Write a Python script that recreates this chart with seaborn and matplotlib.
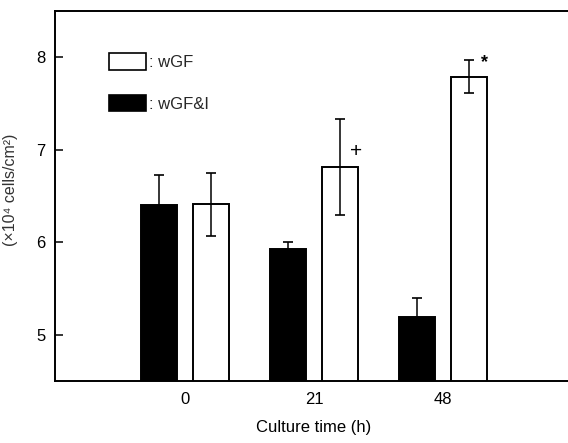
import matplotlib
matplotlib.use("Agg")
import matplotlib.pyplot as plt
import seaborn as sns
import pandas as pd
import numpy as np
from matplotlib.patches import Patch

# ---- data ----
categories = ["0", "21", "48"]
groups = ["wGF&I", "wGF"]
wgfi_mean = [6.40, 5.93, 5.19]
wgfi_err = [0.33, 0.07, 0.21]
wgf_mean = [6.41, 6.81, 7.79]
wgf_err = [0.34, 0.52, 0.18]
wgf_sig = ["", "+", "*"]
wgf_sig_y = [None, 6.98, 7.94]
yticks = [5, 6, 7, 8]

df = pd.DataFrame({
    "time": categories * 2,
    "group": [groups[0]] * 3 + [groups[1]] * 3,
    "value": wgfi_mean + wgf_mean,
})
errs = {groups[0]: wgfi_err, groups[1]: wgf_err}

sns.set_style("ticks")
plt.rcParams["font.family"] = ["Liberation Sans", "DejaVu Sans"]
plt.rcParams["font.size"] = 12

fig = plt.figure(figsize=(5.68, 4.43), dpi=100)
ax = fig.add_axes([55 / 568, 62 / 443, 517 / 568, 370 / 443])

sns.barplot(data=df, x="time", y="value", hue="group", hue_order=groups,
            order=categories, palette={"wGF&I": "black", "wGF": "white"},
            edgecolor="black", linewidth=1.4, width=0.81, gap=0.31,
            errorbar=None, legend=False, ax=ax)

for cont, g in zip(ax.containers, groups):
    xs = [b.get_x() + b.get_width() / 2 for b in cont]
    hs = [b.get_height() for b in cont]
    ax.errorbar(xs, hs, yerr=errs[g], fmt="none", ecolor="black",
                elinewidth=1.1, capsize=3.6, capthick=1.2, zorder=5)
    if g == "wGF":
        for x, s, sy in zip(xs, wgf_sig, wgf_sig_y):
            if s:
                ax.text(x + 0.12, sy, s, ha="center", va="center",
                        fontsize=15 if s == "+" else 13,
                        fontweight="normal" if s == "+" else "bold",
                        color="black")

ax.set_xlim(-1.01, 3.0)
ax.set_ylim(4.5, 8.5)
ax.set_yticks(yticks)
ax.set_yticklabels([str(t) for t in yticks])
ax.tick_params(axis="y", direction="in", length=6, width=1.1, pad=7,
               labelsize=12, colors="black")
ax.tick_params(axis="x", length=0, pad=8, labelsize=12, colors="black")
for side in ["left", "top", "bottom"]:
    ax.spines[side].set_linewidth(1.4)
    ax.spines[side].set_color("black")
    ax.spines[side].set_visible(True)
ax.spines["right"].set_visible(False)

ax.set_xlabel("Culture time (h)", fontsize=12, labelpad=9, color="black")
ax.set_ylabel("")
fig.text(18 / 568, 0.571, "(×10⁴ cells/cm²)", rotation=90, ha="right",
         va="center", fontsize=11.5, color="#333333")

# legend (white first)
handles = [Patch(facecolor="white", edgecolor="black", linewidth=1.2),
           Patch(facecolor="black", edgecolor="black", linewidth=1.2)]
ax.legend(handles, [": wGF", ": wGF&I"], loc="upper left",
          bbox_to_anchor=((109 - 55) / 517, (381 - 53) / 370),
          frameon=False, borderpad=0, borderaxespad=0,
          handlelength=2.2, handleheight=1.15, handletextpad=0.2,
          labelspacing=1.5, fontsize=12)

fig.savefig("out.png", dpi=100, facecolor="white")
